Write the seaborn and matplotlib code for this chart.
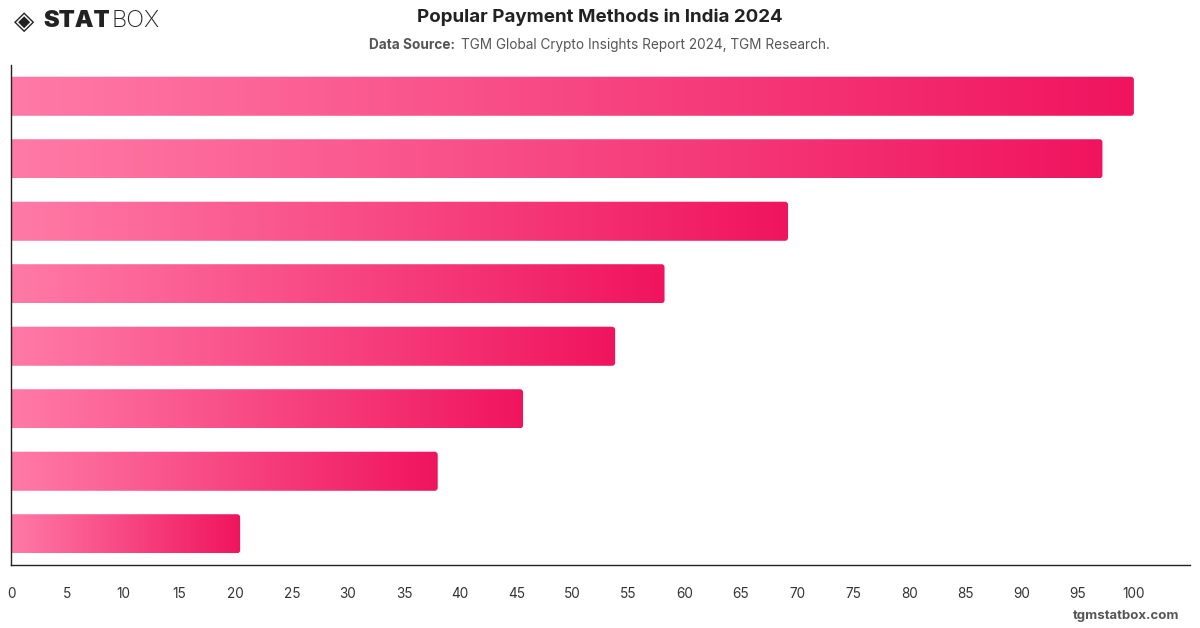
import numpy as np
import pandas as pd
import matplotlib
matplotlib.use("Agg")
import matplotlib.pyplot as plt
from matplotlib.colors import LinearSegmentedColormap
from matplotlib.patches import FancyBboxPatch
import seaborn as sns

categories = ["UPI", "Debit card", "Credit card", "Net banking",
              "Cash", "Mobile wallet", "Bank transfer", "Cryptocurrency"]
values = [100, 97.2, 69.2, 58.2, 53.8, 45.6, 38.0, 20.4]
xticks = list(range(0, 101, 5))

df = pd.DataFrame({"method": categories, "share": values})

sns.set_theme(style="white")
plt.rcParams["font.family"] = ["Inter", "DejaVu Sans"]

fig = plt.figure(figsize=(12, 6.28), dpi=100)
ax = fig.add_axes([0.0092, 0.1003, 0.9825, 0.7962])

sns.barplot(data=df, y="method", x="share", orient="h", width=0.625,
            color="#F0145F", ax=ax)

cmap = LinearSegmentedColormap.from_list("pk", ["#FF7AA6", "#F0145F"])
grad = np.linspace(0, 1, 256).reshape(1, -1)
for p in list(ax.patches):
    x0, y0 = p.get_x(), p.get_y()
    w, h = p.get_width(), p.get_height()
    p.set_visible(False)
    clip = FancyBboxPatch((x0 - 2, y0), w + 2, h,
                          boxstyle="round,pad=0,rounding_size=0.27",
                          transform=ax.transData, facecolor="none", edgecolor="none",
                          mutation_aspect=0.18)
    ax.add_patch(clip)
    im = ax.imshow(grad, cmap=cmap, aspect="auto", extent=(x0, x0 + w, y0 + h, y0),
                   interpolation="bicubic", zorder=2)
    im.set_clip_path(clip)

ax.set_xlim(0, 105)
ax.set_ylim(len(categories) - 0.5, -0.5)
ax.set_xticks(xticks)
ax.set_xticklabels([str(t) for t in xticks], fontsize=9.8, color="#333333")
ax.set_yticks([])
ax.set_xlabel("")
ax.set_ylabel("")
ax.tick_params(axis="x", length=0, pad=16)
for s in ["top", "right"]:
    ax.spines[s].set_visible(False)
for s in ["left", "bottom"]:
    ax.spines[s].set_color("#222222")
    ax.spines[s].set_linewidth(1.0)

fig.text(0.5, 0.972, "Popular Payment Methods in India 2024", ha="center", va="center",
         fontsize=13.5, fontweight="bold", color="#222222")
fig.text(0.3075, 0.929, "Data Source:", ha="left", va="center", fontsize=9.8,
         fontweight="bold", color="#555555")
fig.text(0.3845, 0.929, "TGM Global Crypto Insights Report 2024, TGM Research.", ha="left",
         va="center", fontsize=9.8, color="#555555")

# logo
fig.text(0.012, 0.966, "◈", ha="left", va="center", fontsize=19, color="#222222",
         family=["DejaVu Sans"])
fig.text(0.036, 0.966, "STAT", ha="left", va="center", fontsize=17, fontweight="black",
         color="#222222")
fig.text(0.0925, 0.966, "BOX", ha="left", va="center", fontsize=17, fontweight="light",
         color="#222222")

fig.text(0.983, 0.019, "tgmstatbox.com", ha="right", va="center", fontsize=9.5,
         fontweight="bold", color="#555555")

fig.savefig("out.png", dpi=100)
